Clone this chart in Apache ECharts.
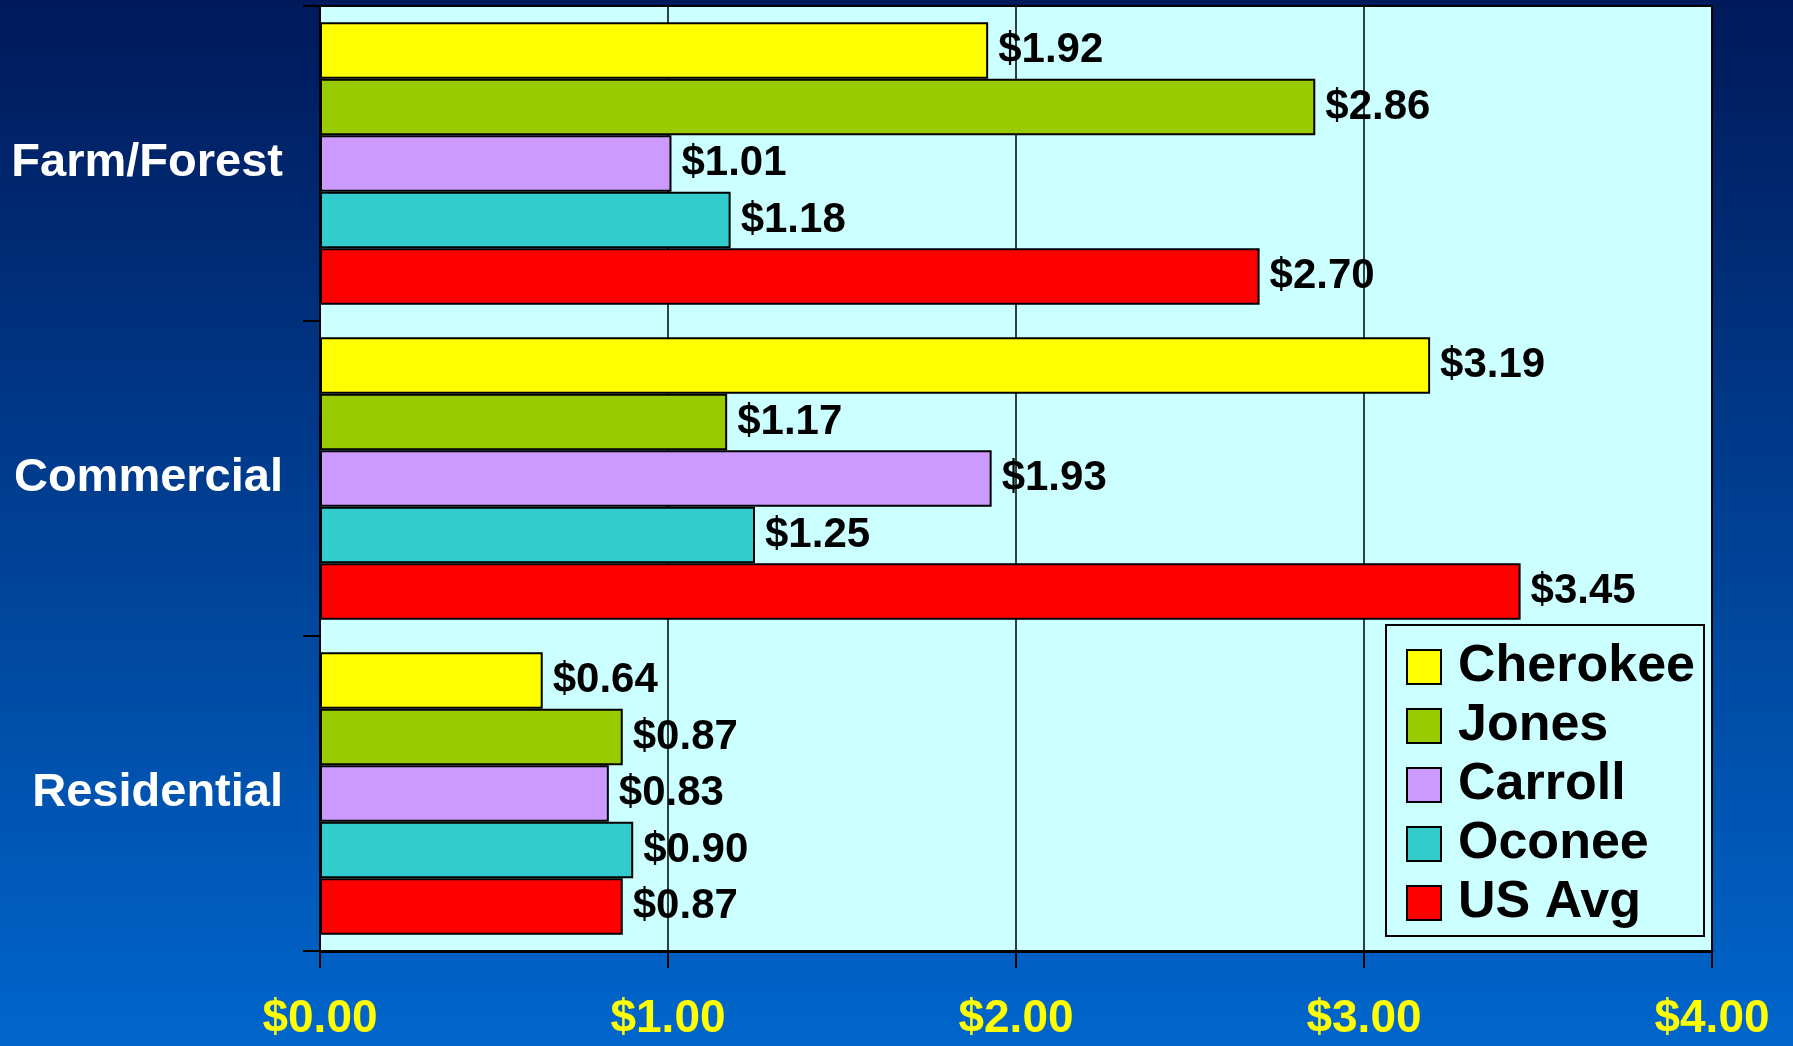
<!DOCTYPE html>
<html>
<head>
<meta charset="utf-8">
<title>Cost of services per dollar of revenue</title>
<script src="https://cdn.jsdelivr.net/npm/echarts@6/dist/echarts.min.js"></script>
<style>
  html, body { margin: 0; padding: 0; }
  #chart { width: 1793px; height: 1046px; }
</style>
</head>
<body>
<div id="chart"></div>
<script>
// categories, top to bottom
var categories = ['Farm/Forest', 'Commercial', 'Residential'];

// one array per county, same order as categories
var cherokee = [1.92, 3.19, 0.64];
var jones    = [2.86, 1.17, 0.87];
var carroll  = [1.01, 1.93, 0.83];
var oconee   = [1.18, 1.25, 0.90];
var usAvg    = [2.70, 3.45, 0.87];

var seriesNames = ['Cherokee', 'Jones', 'Carroll', 'Oconee', 'US Avg'];
var seriesData = [cherokee, jones, carroll, oconee, usAvg];
var colors = ['#FFFF00', '#99CC00', '#CC99FF', '#33CCCC', '#FF0000'];

var font = '"Liberation Sans", Arial, sans-serif';

var chart = echarts.init(document.getElementById('chart'));

var series = [];
for (var i = 0; i < seriesNames.length; i++) {
    series.push({
        name: seriesNames[i],
        type: 'bar',
        data: seriesData[i],
        barGap: '0%',
        barWidth: 56.5,
        itemStyle: {
            color: colors[i],
            borderColor: '#000',
            borderWidth: 2
        },
        label: {
            show: true,
            position: 'right',
            distance: 10,
            color: '#000',
            fontFamily: font,
            fontWeight: 'bold',
            fontSize: 42,
            formatter: function (p) { return '$' + p.value.toFixed(2); }
        }
    });
}

var option = {
    backgroundColor: new echarts.graphic.LinearGradient(0, 0, 0, 1, [
        { offset: 0, color: '#00195A' },
        { offset: 1, color: '#0066CC' }
    ]),
    animation: false,
    grid: {
        left: 320,
        right: 81,
        top: 6,
        bottom: 95,
        show: true,
        backgroundColor: '#CCFFFF',
        borderColor: '#000',
        borderWidth: 2
    },
    legend: {
        orient: 'vertical',
        left: 1386,
        top: 625,
        backgroundColor: '#CCFFFF',
        borderColor: '#000',
        borderWidth: 2,
        padding: [14, 9, 5, 20],
        itemWidth: 34,
        itemHeight: 34,
        itemGap: 3,
        icon: 'rect',
        textStyle: {
            color: '#000',
            fontFamily: font,
            fontWeight: 'bold',
            fontSize: 52,
            lineHeight: 56,
            padding: [0, 0, 0, 12]
        },
        data: seriesNames
    },
    xAxis: {
        type: 'value',
        min: 0,
        max: 4,
        interval: 1,
        axisLine: { show: true, lineStyle: { color: '#000', width: 3 } },
        axisTick: { show: true, length: 17, lineStyle: { color: '#000', width: 2 } },
        splitLine: { show: true, lineStyle: { color: '#000', width: 1.5 } },
        axisLabel: {
            color: '#FFFF00',
            fontFamily: font,
            fontWeight: 'bold',
            fontSize: 46,
            margin: 45,
            formatter: function (v) { return '$' + v.toFixed(2); }
        }
    },
    yAxis: {
        type: 'category',
        data: categories,
        inverse: true,
        axisLine: { show: true, lineStyle: { color: '#000', width: 2 } },
        axisTick: { show: true, length: 17, lineStyle: { color: '#000', width: 2 } },
        axisLabel: {
            color: '#fff',
            fontFamily: font,
            fontWeight: 'bold',
            fontSize: 47,
            margin: 37
        }
    },
    series: series
};

chart.setOption(option);
</script>
</body>
</html>
